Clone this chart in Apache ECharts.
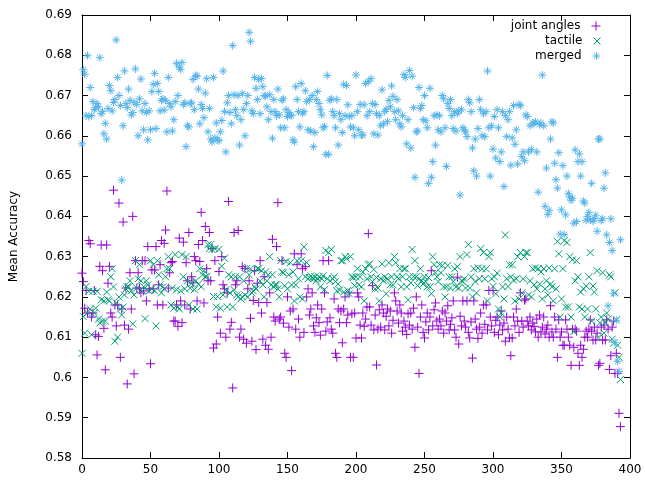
<!DOCTYPE html>
<html><head><meta charset="utf-8">
<script src="https://cdn.jsdelivr.net/npm/echarts@6/dist/echarts.min.js"></script>
<style>html,body{margin:0;padding:0;background:#fff}#c{width:645px;height:480px}</style>
</head><body><div id="c"></div>
<script>
const seriesNames = ["joint angles", "tactile", "merged"];
const xTicks = [0, 50, 100, 150, 200, 250, 300, 350, 400];
const yTicks = [0.58, 0.59, 0.6, 0.61, 0.62, 0.63, 0.64, 0.65, 0.66, 0.67, 0.68, 0.69];

const jointAngles = [
0.6259,0.6238,0.6172,0.6216,0.6160,0.6340,0.6332,0.6150,0.6160,0.6216,
0.6106,0.6056,0.6102,0.6276,0.6329,0.6265,0.6122,0.6019,0.6329,0.6234,
0.6276,0.6160,0.6150,0.6465,0.6180,0.6128,0.6180,0.6433,0.6050,0.6170,
0.6386,0.6130,0.6222,0.5984,0.6120,0.6260,0.6170,0.6400,0.6009,0.6290,
0.6222,0.6260,0.6222,0.6210,0.6290,0.6215,0.6290,0.6190,0.6325,0.6220,
0.6034,0.6267,0.6220,0.6267,0.6325,0.6180,0.6230,0.6280,0.6340,0.6180,
0.6333,0.6366,0.6463,0.6222,0.6260,0.6285,0.6288,0.6140,0.6140,0.6180,
0.6127,0.6346,0.6190,0.6136,0.6336,0.6180,0.6285,0.6240,0.6360,0.6170,
0.6250,0.6235,0.6300,0.6290,0.6190,0.6330,0.6288,0.6410,0.6340,0.6185,
0.6375,0.6270,0.6240,0.6360,0.6240,0.6320,0.6073,0.6290,0.6083,0.6150,
0.6263,0.6110,0.6300,0.6230,0.6220,0.6100,0.6210,0.6437,0.6120,0.6137,
0.5974,0.6360,0.6230,0.6240,0.6365,0.6100,0.6120,0.6275,0.6095,0.6270,
0.6085,0.6220,0.6240,0.6147,0.6090,0.6191,0.6265,0.6069,0.6234,0.6186,
0.6290,0.6160,0.6095,0.6250,0.6080,0.6186,0.6070,0.6210,0.6100,0.6343,
0.6150,0.6140,0.6325,0.6434,0.6145,0.6150,0.6290,0.6135,0.6060,0.6050,
0.6200,0.6125,0.6165,0.6017,0.6170,0.6307,0.6120,0.6280,0.6145,0.6100,
0.6307,0.6270,0.6112,0.6275,0.6200,0.6220,0.6155,0.6170,0.6210,0.6128,
0.6112,0.6148,0.6180,0.6136,0.6105,0.6170,0.6290,0.6210,0.6115,0.6138,
0.6290,0.6148,0.6120,0.6110,0.6195,0.6060,0.6050,0.6170,0.6136,0.6165,
0.6086,0.6170,0.6200,0.6136,0.6155,0.6210,0.6050,0.6158,0.6050,0.6160,
0.6098,0.6210,0.6200,0.6130,0.6098,0.6160,0.6127,0.6145,0.6175,0.6357,
0.6175,0.6130,0.6228,0.6118,0.6155,0.6031,0.6120,0.6168,0.6125,0.6180,
0.6160,0.6118,0.6152,0.6170,0.6128,0.6165,0.6110,0.6142,0.6210,0.6190,
0.6165,0.6135,0.6180,0.6160,0.6115,0.6140,0.6125,0.6107,0.6158,0.6130,
0.6160,0.6120,0.6172,0.6075,0.6200,0.6125,0.6010,0.6150,0.6180,0.6112,
0.6098,0.6138,0.6160,0.6118,0.6150,0.6265,0.6128,0.6168,0.6185,0.6140,
0.6120,0.6145,0.6128,0.6165,0.6110,0.6160,0.6140,0.6178,0.6118,0.6132,
0.6148,0.6190,0.6118,0.6100,0.6249,0.6083,0.6152,0.6128,0.6190,0.6140,
0.6125,0.6190,0.6112,0.6098,0.6138,0.6048,0.6190,0.6145,0.6120,0.6097,
0.6125,0.6160,0.6110,0.6180,0.6132,0.6180,0.6118,0.6216,0.6150,0.6128,
0.6216,0.6112,0.6142,0.6150,0.6106,0.6130,0.6165,0.6118,0.6135,0.6090,
0.6150,0.6120,0.6098,0.6054,0.6098,0.6150,0.6128,0.6170,0.6140,0.6112,
0.6210,0.6140,0.6125,0.6192,0.6195,0.6140,0.6128,0.6150,0.6118,0.6135,
0.6127,0.6113,0.6145,0.6100,0.6155,0.6113,0.6125,0.6150,0.6108,0.6120,
0.6130,0.6100,0.6178,0.6113,0.6100,0.6150,0.6120,0.6050,0.6143,0.6100,
0.6113,0.6080,0.6080,0.6143,0.6120,0.6100,0.6080,0.6030,0.6120,0.6075,
0.6120,0.6115,0.6060,0.6030,0.6080,0.6050,0.6070,0.6100,0.6115,0.6100,
0.6120,0.6143,0.6115,0.6093,0.6125,0.6093,0.6110,0.6030,0.6035,0.6125,
0.6093,0.6130,0.6093,0.6143,0.6120,0.6020,0.6054,0.6125,0.6140,0.6010,
0.6060,0.6010,0.5911,0.5878
];

const tactile = [
0.6060,0.6151,0.6110,0.6226,0.6160,0.6214,0.6170,0.6106,0.6214,0.6160,
0.6172,0.6214,0.6145,0.6135,0.6193,0.6140,0.6190,0.6140,0.6212,0.6193,
0.6190,0.6250,0.6270,0.6225,0.6090,0.6185,0.6100,0.6200,0.6170,0.6155,
0.6175,0.6205,0.6220,0.6225,0.6225,0.6240,0.6215,0.6133,0.6205,0.6290,
0.6222,0.6245,0.6280,0.6240,0.6215,0.6225,0.6146,0.6240,0.6230,0.6215,
0.6290,0.6220,0.6280,0.6215,0.6128,0.6290,0.6255,0.6230,0.6210,0.6225,
0.6220,0.6250,0.6270,0.6300,0.6270,0.6180,0.6222,0.6172,0.6305,0.6218,
0.6175,0.6170,0.6215,0.6305,0.6250,0.6220,0.6300,0.6240,0.6180,0.6222,
0.6234,0.6170,0.6218,0.6240,0.6170,0.6232,0.6270,0.6225,0.6255,0.6265,
0.6250,0.6250,0.6330,0.6320,0.6330,0.6318,0.6201,0.6320,0.6175,0.6201,
0.6318,0.6172,0.6276,0.6205,0.6296,0.6218,0.6175,0.6255,0.6210,0.6250,
0.6175,0.6218,0.6250,0.6205,0.6200,0.6250,0.6195,0.6200,0.6240,0.6205,
0.6270,0.6200,0.6255,0.6270,0.6210,0.6215,0.6225,0.6220,0.6270,0.6270,
0.6240,0.6265,0.6230,0.6200,0.6262,0.6240,0.6255,0.6300,0.6230,0.6255,
0.6225,0.6230,0.6230,0.6220,0.6200,0.6290,0.6262,0.6260,0.6228,0.6288,
0.6220,0.6255,0.6285,0.6230,0.6262,0.6190,0.6230,0.6290,0.6245,0.6200,
0.6290,0.6195,0.6324,0.6250,0.6285,0.6245,0.6248,0.6252,0.6248,0.6245,
0.6250,0.6240,0.6245,0.6250,0.6225,0.6245,0.6252,0.6218,0.6315,0.6245,
0.6310,0.6240,0.6318,0.6245,0.6250,0.6238,0.6215,0.6232,0.6217,0.6290,
0.6290,0.6212,0.6300,0.6295,0.6216,0.6208,0.6300,0.6250,0.6248,0.6228,
0.6250,0.6270,0.6230,0.6250,0.6225,0.6262,0.6190,0.6270,0.6245,0.6280,
0.6282,0.6250,0.6238,0.6268,0.6220,0.6248,0.6222,0.6190,0.6245,0.6282,
0.6240,0.6250,0.6208,0.6245,0.6285,0.6230,0.6250,0.6230,0.6300,0.6285,
0.6250,0.6245,0.6270,0.6225,0.6250,0.6270,0.6270,0.6225,0.6193,0.6250,
0.6235,0.6318,0.6250,0.6290,0.6250,0.6228,0.6245,0.6270,0.6240,0.6232,
0.6250,0.6238,0.6225,0.6248,0.6225,0.6208,0.6300,0.6280,0.6260,0.6250,
0.6238,0.6280,0.6260,0.6278,0.6225,0.6200,0.6225,0.6278,0.6250,0.6222,
0.6250,0.6238,0.6270,0.6225,0.6275,0.6222,0.6300,0.6240,0.6238,0.6245,
0.6222,0.6305,0.6330,0.6222,0.6250,0.6200,0.6270,0.6238,0.6210,0.6272,
0.6245,0.6320,0.6270,0.6310,0.6245,0.6270,0.6190,0.6300,0.6310,0.6245,
0.6226,0.6250,0.6208,0.6259,0.6170,0.6150,0.6160,0.6225,0.6195,0.6354,
0.6245,0.6226,0.6280,0.6250,0.6280,0.6242,0.6190,0.6245,0.6300,0.6195,
0.6310,0.6210,0.6245,0.6300,0.6310,0.6310,0.6205,0.6240,0.6200,0.6270,
0.6230,0.6272,0.6220,0.6270,0.6232,0.6262,0.6195,0.6270,0.6220,0.6240,
0.6205,0.6272,0.6232,0.6225,0.6190,0.6270,0.6220,0.6338,0.6307,0.6150,
0.6195,0.6270,0.6340,0.6175,0.6335,0.6175,0.6300,0.6150,0.6292,0.6114,
0.6240,0.6290,0.6250,0.6175,0.6212,0.6170,0.6220,0.6150,0.6227,0.6170,
0.6250,0.6310,0.6140,0.6227,0.6212,0.6170,0.6265,0.6100,0.6136,0.6150,
0.6260,0.6110,0.6136,0.6160,0.6145,0.6255,0.6250,0.6095,0.6085,0.6210,
0.6143,0.6080,0.6050,0.5995
];

const merged = [
0.6580,0.6764,0.6753,0.6650,0.6799,0.6648,0.6720,0.6650,0.6685,0.6665,
0.6670,0.6680,0.6672,0.6794,0.6655,0.6660,0.6605,0.6631,0.6592,0.6668,
0.6725,0.6712,0.6662,0.6683,0.6690,0.6838,0.6745,0.6700,0.6675,0.6490,
0.6625,0.6761,0.6680,0.6670,0.6716,0.6688,0.6652,0.6658,0.6683,0.6766,
0.6678,0.6600,0.6692,0.6741,0.6662,0.6615,0.6680,0.6658,0.6590,0.6662,
0.6615,0.6710,0.6728,0.6755,0.6618,0.6730,0.6710,0.6662,0.6688,0.6692,
0.6664,0.6688,0.6610,0.6745,0.6680,0.6672,0.6612,0.6640,0.6685,0.6780,
0.6700,0.6770,0.6765,0.6782,0.6678,0.6682,0.6573,0.6625,0.6622,0.6680,
0.6682,0.6740,0.6665,0.6750,0.6748,0.6716,0.6630,0.6678,0.6668,0.6645,
0.6706,0.6742,0.6610,0.6668,0.6592,0.6585,0.6745,0.6595,0.6632,0.6590,
0.6588,0.6610,0.6638,0.6761,0.6660,0.6560,0.6682,0.6700,0.6658,0.6630,
0.6824,0.6702,0.6665,0.6650,0.6700,0.6577,0.6640,0.6705,0.6665,0.6600,
0.6680,0.6700,0.6857,0.6835,0.6662,0.6655,0.6745,0.6718,0.6690,0.6740,
0.6655,0.6742,0.6722,0.6700,0.6698,0.6672,0.6640,0.6702,0.6660,0.6594,
0.6690,0.6660,0.6650,0.6716,0.6652,0.6620,0.6688,0.6692,0.6620,0.6665,
0.6648,0.6658,0.6652,0.6650,0.6590,0.6585,0.6722,0.6690,0.6660,0.6622,
0.6730,0.6656,0.6660,0.6712,0.6685,0.6615,0.6690,0.6612,0.6700,0.6573,
0.6608,0.6690,0.6710,0.6680,0.6665,0.6652,0.6620,0.6623,0.6554,0.6750,
0.6554,0.6688,0.6692,0.6660,0.6650,0.6620,0.6690,0.6577,0.6655,0.6640,
0.6608,0.6728,0.6650,0.6725,0.6677,0.6648,0.6622,0.6650,0.6620,0.6600,
0.6751,0.6660,0.6615,0.6678,0.6602,0.6602,0.6677,0.6730,0.6650,0.6735,
0.6660,0.6742,0.6680,0.6605,0.6678,0.6655,0.6602,0.6650,0.6625,0.6714,
0.6630,0.6660,0.6666,0.6635,0.6688,0.6672,0.6724,0.6698,0.6660,0.6640,
0.6690,0.6662,0.6630,0.6622,0.6650,0.6752,0.6745,0.6580,0.6640,0.6762,
0.6570,0.6748,0.6670,0.6497,0.6610,0.6612,0.6720,0.6668,0.6675,0.6640,
0.6700,0.6637,0.6620,0.6482,0.6718,0.6497,0.6536,0.6650,0.6577,0.6652,
0.6615,0.6650,0.6610,0.6700,0.6692,0.6620,0.6524,0.6680,0.6668,0.6690,
0.6650,0.6618,0.6660,0.6612,0.6655,0.6662,0.6453,0.6665,0.6620,0.6615,
0.6610,0.6598,0.6690,0.6682,0.6660,0.6570,0.6513,0.6592,0.6500,0.6618,
0.6690,0.6665,0.6600,0.6655,0.6598,0.6660,0.6761,0.6620,0.6500,0.6625,
0.6567,0.6648,0.6545,0.6665,0.6620,0.6536,0.6560,0.6660,0.6474,0.6650,
0.6598,0.6640,0.6660,0.6527,0.6595,0.6675,0.6579,0.6615,0.6530,0.6678,
0.6675,0.6548,0.6560,0.6538,0.6652,0.6648,0.6560,0.6625,0.6566,0.6632,
0.6630,0.6635,0.6560,0.6460,0.6628,0.6632,0.6751,0.6625,0.6425,0.6520,
0.6405,0.6415,0.6592,0.6635,0.6632,0.6532,0.6491,0.6470,0.6558,0.6356,
0.6416,0.6526,0.6355,0.6404,0.6500,0.6457,0.6448,0.6440,0.6445,0.6383,
0.6565,0.6387,0.6536,0.6555,0.6500,0.6536,0.6438,0.6433,0.6390,0.6400,
0.6410,0.6392,0.6482,0.6388,0.6394,0.6403,0.6363,0.6592,0.6592,0.6390,
0.6394,0.6470,0.6508,0.6354,0.6178,0.6335,0.6394,0.6315,0.6209,0.6087,
0.6142,0.6040,0.6015,0.6342
];

const colors = ["#9400d3", "#009e73", "#56b4e9"];
const symbols = [
  "path://M0,5L10,5M5,0L5,10",
  "path://M0,0L10,10M10,0L0,10",
  "path://M0,5L10,5M5,0L5,10M1.5,1.5L8.5,8.5M8.5,1.5L1.5,8.5"
];
const sizes = [9, 7, 8];
const values = [jointAngles, tactile, merged];
const FONT = "DejaVu Sans";

const chart = echarts.init(document.getElementById('c'), null, {renderer: 'canvas'});
const axisCommon = {
  axisLine: {show: true, onZero: false, lineStyle: {color: '#000', width: 1}},
  axisTick: {show: true, inside: true, length: 6, lineStyle: {color: '#000'}},
  splitLine: {show: false}
};
chart.setOption({
  animation: false,
  backgroundColor: '#fff',
  grid: {left: 80, right: 15, top: 15, bottom: 22, containLabel: false},
  xAxis: [
    Object.assign({type: 'value', position: 'bottom', min: xTicks[0], max: xTicks[xTicks.length-1], interval: 50,
      axisLabel: {color: '#000', fontFamily: FONT, fontSize: 12, margin: 6}}, axisCommon),
    Object.assign({type: 'value', position: 'top', min: xTicks[0], max: xTicks[xTicks.length-1], interval: 50,
      axisLabel: {show: false}}, axisCommon)
  ],
  yAxis: [
    Object.assign({type: 'value', position: 'left', min: yTicks[0], max: yTicks[yTicks.length-1], interval: 0.01,
      name: 'Mean Accuracy', nameLocation: 'middle', nameGap: 62, nameRotate: 90,
      nameTextStyle: {color: '#000', fontFamily: FONT, fontSize: 12},
      axisLabel: {color: '#000', fontFamily: FONT, fontSize: 12, margin: 10}}, axisCommon),
    Object.assign({type: 'value', position: 'right', min: yTicks[0], max: yTicks[yTicks.length-1], interval: 0.01,
      axisLabel: {show: false}}, axisCommon)
  ],
  legend: seriesNames.map((n, i) => ({
    data: [n], orient: 'vertical', right: 44, top: 20 + i * 15, align: 'right', padding: 0,
    itemWidth: sizes[i], itemHeight: sizes[i], selectedMode: false,
    itemStyle: {color: colors[i], borderColor: colors[i], borderWidth: 1},
    textStyle: {color: '#000', fontFamily: FONT, fontSize: 12, padding: [0, 6, 0, 0]}
  })),
  series: seriesNames.map((n, i) => ({
    name: n, type: 'scatter', xAxisIndex: 0, yAxisIndex: 0,
    symbol: symbols[i], symbolSize: sizes[i],
    itemStyle: {color: colors[i], borderColor: colors[i], borderWidth: 1, opacity: 1},
    emphasis: {disabled: true},
    data: values[i].map((v, k) => [k, v])
  }))
});
</script></body></html>
